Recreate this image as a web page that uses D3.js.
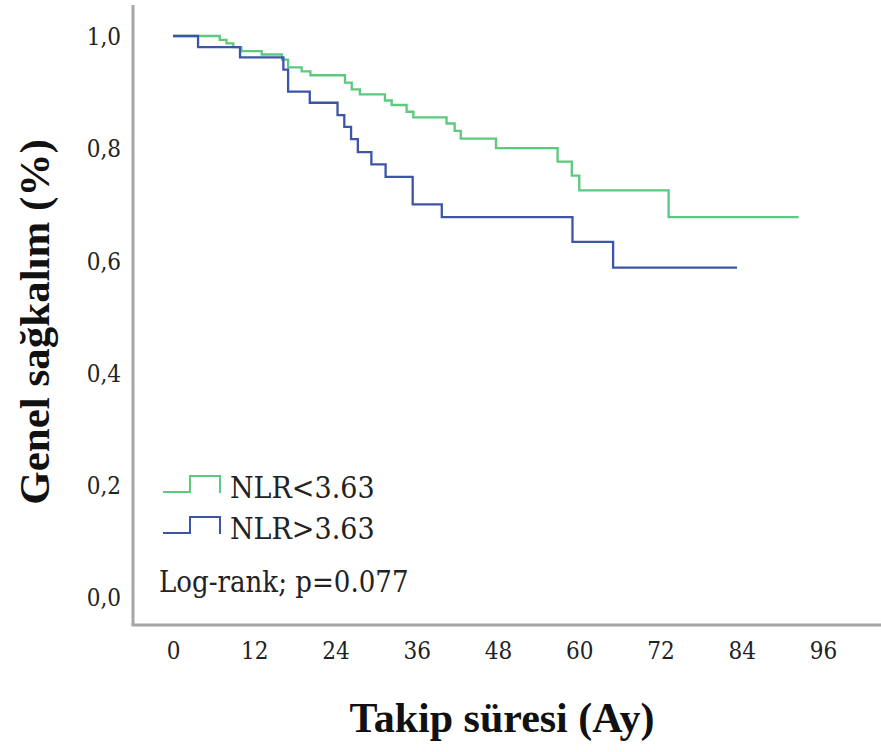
<!DOCTYPE html>
<html>
<head>
<meta charset="utf-8">
<script src="https://cdn.jsdelivr.net/npm/d3@7"></script>
<style>
  body { margin: 0; background: #fff; }
  svg { display: block; }
</style>
</head>
<body>
<div id="chart"></div>
<script>
// Données (Kaplan-Meier)
const groups = ["NLR<3.63", "NLR>3.63"];
const groupColors = ["#5cc97e", "#3d55a6"];

// NLR<3.63 : temps des événements (mois) et survie après chaque événement
const lowTimes = [6.9, 7.9, 8.9, 10.1, 13.1, 16.1, 17.0, 19.0, 20.3, 25.4, 26.4, 27.6, 31.3, 32.3, 34.5, 35.5, 40.4, 41.6, 42.5, 47.7, 56.8, 58.9, 60.0, 73.2];
const lowSurv = [0.993, 0.987, 0.980, 0.973, 0.967, 0.958, 0.944, 0.937, 0.930, 0.917, 0.905, 0.896, 0.885, 0.877, 0.865, 0.855, 0.844, 0.831, 0.817, 0.800, 0.776, 0.751, 0.725, 0.677];
const lowEnd = 92.4;

// NLR>3.63
const highTimes = [3.7, 9.9, 16.3, 17.0, 20.2, 24.3, 25.3, 26.3, 27.3, 29.3, 31.4, 35.4, 39.7, 59.0, 65.0];
const highSurv = [0.980, 0.962, 0.940, 0.901, 0.881, 0.859, 0.838, 0.816, 0.793, 0.771, 0.749, 0.700, 0.677, 0.633, 0.587];
const highEnd = 83.3;

const xTicks = [0, 12, 24, 36, 48, 60, 72, 84, 96];
const yTicks = [0, 0.2, 0.4, 0.6, 0.8, 1.0];

const pValueText = "Log-rank; p=0.077";
const xTitle = "Takip süresi (Ay)";
const yTitle = "Genel sağkalım (%)";

//---------------------------------------------------------------------------------------

// Mise en forme des courbes : point de départ (0, 1), événements, fin du suivi
function buildSteps(times, surv, end) {
    const pts = [{ t: 0, s: 1 }];
    times.forEach((t, i) => pts.push({ t: t, s: surv[i] }));
    pts.push({ t: end, s: surv[surv.length - 1] });
    return pts;
}

const series = [
    { name: groups[0], col: groupColors[0], values: buildSteps(lowTimes, lowSurv, lowEnd) },
    { name: groups[1], col: groupColors[1], values: buildSteps(highTimes, highSurv, highEnd) }
];

//---------------------------------------------------------------------------------------

const width = 881;
const height = 752;
const serif = "DejaVu Serif, serif";

const svg = d3.select("#chart")
    .append("svg")
    .attr("width", width)
    .attr("height", height);

// Échelles
const x = d3.scaleLinear().domain([0, 96]).range([173, 823]);
const y = d3.scaleLinear().domain([0, 1]).range([597, 36]);

// Cadre des axes (gris, à gauche et en bas)
const frameX = 133;
const frameY = 625;

svg.append("line")
    .attr("x1", frameX).attr("x2", frameX)
    .attr("y1", 5).attr("y2", frameY)
    .attr("stroke", "#a6a6a6")
    .attr("stroke-width", 3);

svg.append("line")
    .attr("x1", frameX - 1.5).attr("x2", width)
    .attr("y1", frameY).attr("y2", frameY)
    .attr("stroke", "#a6a6a6")
    .attr("stroke-width", 3);

// Axe X
const xAxis = svg.append("g")
    .attr("transform", `translate(0, ${frameY})`)
    .call(d3.axisBottom(x).tickValues(xTicks).tickSize(0).tickPadding(17));
xAxis.select(".domain").remove();

// Axe Y (virgule décimale)
const yAxis = svg.append("g")
    .attr("transform", `translate(${frameX}, 0)`)
    .call(d3.axisLeft(y).tickValues(yTicks).tickSize(0).tickPadding(12)
        .tickFormat(d => d3.format(".1f")(d).replace(".", ",")));
yAxis.select(".domain").remove();
yAxis.selectAll("text").attr("dy", "0.36em");

svg.selectAll(".tick text")
    .attr("font-family", serif)
    .attr("font-stretch", "condensed")
    .attr("font-size", "24px")
    .attr("fill", "#222");

// Titres des axes
svg.append("text")
    .attr("x", 502)
    .attr("y", 732)
    .attr("text-anchor", "middle")
    .attr("font-family", "Liberation Serif, serif")
    .attr("font-weight", "bold")
    .attr("font-size", "42px")
    .attr("fill", "#111")
    .text(xTitle);

svg.append("text")
    .attr("transform", "translate(49, 322) rotate(-90)")
    .attr("text-anchor", "middle")
    .attr("font-family", "Liberation Serif, serif")
    .attr("font-weight", "bold")
    .attr("font-size", "43px")
    .attr("fill", "#111")
    .text(yTitle);

//---------------------------------------------------------------------------------------

// Courbes en escalier
const line = d3.line()
    .x(d => x(d.t))
    .y(d => y(d.s))
    .curve(d3.curveStepAfter);

svg.selectAll(".km")
    .data(series)
    .join("path")
    .attr("class", "km")
    .attr("fill", "none")
    .attr("stroke", d => d.col)
    .attr("stroke-width", 2.3)
    .attr("d", d => line(d.values));

//---------------------------------------------------------------------------------------

// Légende
const legend = svg.selectAll(".legend")
    .data(series)
    .join("g")
    .attr("class", "legend")
    .attr("transform", (d, i) => `translate(163, ${492 + i * 41})`);

legend.append("path")
    .attr("d", "M0,0 H27 V-16 H57 V1")
    .attr("fill", "none")
    .attr("stroke", d => d.col)
    .attr("stroke-width", 2);

legend.append("text")
    .attr("x", 67)
    .attr("y", 6)
    .attr("font-family", serif)
    .attr("font-stretch", "condensed")
    .attr("font-size", "30px")
    .attr("fill", "#222")
    .text(d => d.name);

svg.append("text")
    .attr("x", 159)
    .attr("y", 592)
    .attr("font-family", serif)
    .attr("font-stretch", "condensed")
    .attr("font-size", "29px")
    .attr("fill", "#222")
    .text(pValueText);
</script>
</body>
</html>
